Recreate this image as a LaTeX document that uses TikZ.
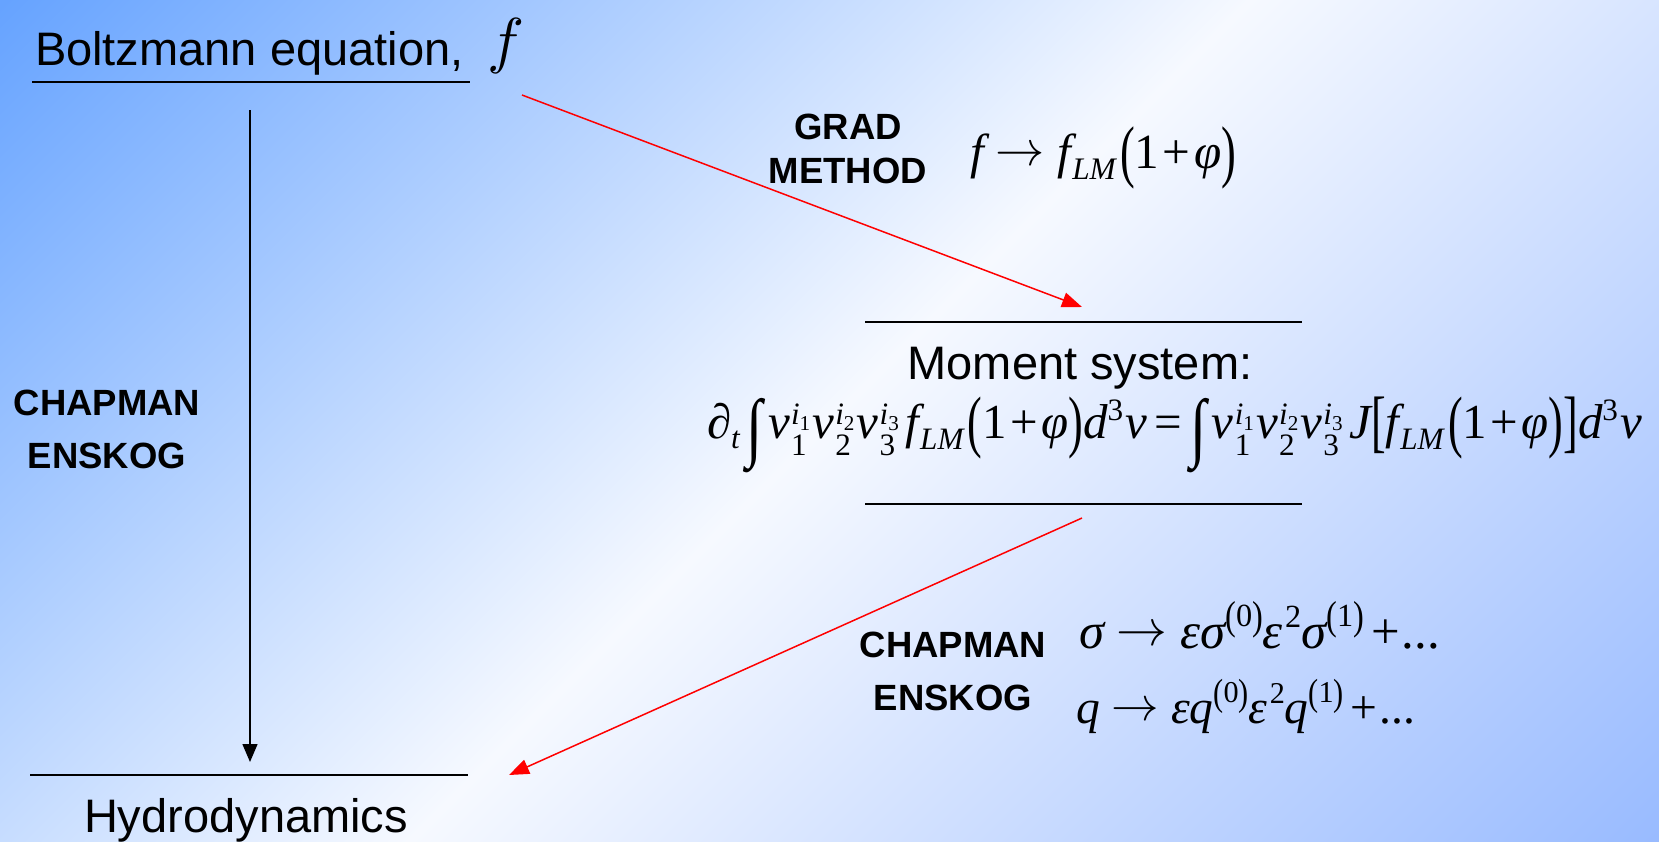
\documentclass[tikz,border=0pt]{standalone}
\usepackage{graphicx}
\usepackage{fontspec}
\setmainfont{Liberation Sans}
\newfontfamily\tnr{Liberation Serif}
\usetikzlibrary{arrows.meta}
\definecolor{bgA}{RGB}{102,163,255}
\definecolor{bgB}{RGB}{153,187,255}
\definecolor{bgM}{RGB}{246,249,255}
\pgfdeclarehorizontalshading{bgshade}{100bp}{color(0bp)=(bgA); color(14.6bp)=(bgA); color(50bp)=(bgM); color(85.4bp)=(bgB); color(100bp)=(bgB)}
\newbox\SupB
\newbox\SubB
\newcommand\Ii[1]{{\itshape #1}}
\newcommand\scr[1]{{\fontsize{28}{28}\selectfont #1}}
\newcommand\sscr[1]{{\fontsize{19}{19}\selectfont #1}}
\newcommand\supsub[2]{\setbox\SupB=\hbox{\raise12pt\hbox{#1}}\setbox\SubB=\hbox{\lower16pt\hbox{#2}}\ifdim\wd\SupB>\wd\SubB \rlap{\copy\SubB}\copy\SupB\else\rlap{\copy\SupB}\copy\SubB\fi}
\newcommand\vi[1]{\Ii{v}\kern1pt\supsub{\scr{\Ii{i}}\lower5pt\hbox{\sscr{#1}}}{\scr{#1}}\kern2pt}
\newcommand\fLM{\Ii{f}\kern1pt\lower10pt\hbox{\scr{\Ii{LM}}}}
\newcommand\LP{\raisebox{-6pt}{\scalebox{0.9}[1.4]{(}}}
\newcommand\RP{\raisebox{-6pt}{\scalebox{0.9}[1.4]{)}}}
\newcommand\LB{\raisebox{-6pt}{\scalebox{0.9}[1.4]{[}}}
\newcommand\RB{\raisebox{-6pt}{\scalebox{0.9}[1.4]{]}}}
\newcommand\INT{\raisebox{-13pt}{\scalebox{1.2}[1.55]{∫}}}
\newcommand\dcube{\Ii{d}\raise16pt\hbox{\scr{3}}\kern2pt\Ii{v}}
\newcommand\arr{\kern11pt\raisebox{2pt}{\scalebox{4.4}{\normalsize$\rightarrow$}}\kern11pt}
\newcommand\bigsup[1]{\raise19pt\hbox{\scr{\raisebox{-3pt}{\scalebox{1}[1.25]{(}}#1\raisebox{-3pt}{\scalebox{1}[1.25]{)}}}}}
\newcommand\eqfont{\tnr\fontsize{44}{44}\selectfont}
\begin{document}
\begin{tikzpicture}[x=1pt,y=-1pt,
  txt/.style={inner sep=0pt, outer sep=0pt, font=\fontsize{47}{54}\selectfont},
  lbl/.style={inner sep=0pt, outer sep=0pt, font=\bfseries\fontsize{36.5}{53}\selectfont, align=center, anchor=base},
  frm/.style={inner sep=0pt, outer sep=0pt, anchor=base west},
  rulel/.style={line width=2pt},
  blk/.style={line width=1.4pt, -{Triangle[length=18pt,width=15pt]}},
  redarr/.style={red, line width=1.5pt, -{Triangle[length=20pt,width=15pt]}}]
\shade[shading=bgshade, shading angle=-45] (0,0) rectangle (1659,841);
\useasboundingbox (0,0) rectangle (1659,841);
% Boltzmann
\node[txt, anchor=base west] (boltz) at (35,65) {Boltzmann equation,\kern24pt\raisebox{4pt}{\scalebox{6.2}{\normalsize$f$}}};
\draw[rulel] (32,82) -- (470,82);
% Hydrodynamics
\draw[rulel] (30,775) -- (468,775);
\node[txt, anchor=base] (hydro) at (246,832) {Hydrodynamics};
% Moment system
\draw[rulel] (865,322) -- (1302,322);
\draw[rulel] (865,504) -- (1302,504);
\node[txt, anchor=base] (moment) at (1080,379) {Moment system:};
\node[frm] (momeq) at (707,438) {\resizebox{935pt}{!}{\eqfont ∂\lower9pt\hbox{\scr{\Ii{t}}}\kern6pt\INT\kern5pt\vi1\vi2\vi3\kern4pt\fLM\kern4pt\LP1\kern3pt+\kern3pt\Ii{φ}\RP\dcube\kern7pt=\kern7pt\INT\kern5pt\vi1\vi2\vi3\kern4pt\Ii{J}\LB\fLM\kern4pt\LP1\kern3pt+\kern3pt\Ii{φ}\RP\RB\dcube}};
% labels (base anchor = last line)
\node[lbl] (ceL) at (107,468) {CHAPMAN\\ENSKOG};
\node[lbl, font=\bfseries\fontsize{36.5}{44}\selectfont] (grad) at (848,183) {GRAD\\METHOD};
\node[lbl] (ceR) at (953,710) {CHAPMAN\\ENSKOG};
% formulas
\node[frm] (gradf) at (970,168) {\resizebox{266pt}{!}{\eqfont\Ii{f}\arr\fLM\kern4pt\LP1\kern3pt+\kern3pt\Ii{φ}\RP}};
\node[frm] (sigf) at (1079,648) {\resizebox{361pt}{!}{\eqfont\Ii{σ}\arr\Ii{εσ}\bigsup{0}\Ii{ε}\kern2pt\raise18pt\hbox{\scr{2}}\Ii{σ}\bigsup{1}\kern6pt+\kern2pt...}};
\node[frm] (qf) at (1076,723) {\resizebox{339pt}{!}{\eqfont\Ii{q}\arr\Ii{εq}\bigsup{0}\Ii{ε}\kern2pt\raise18pt\hbox{\scr{2}}\Ii{q}\bigsup{1}\kern6pt+\kern2pt...}};
% connectors
\coordinate (bS) at (250,110);
\coordinate (bE) at (250,762);
\draw[blk] (bS) -- (bE);
\coordinate (gS) at (522,95);
\coordinate (gE) at (1082,307);
\draw[redarr] (gS) -- (gE);
\coordinate (cS) at (1082,518);
\coordinate (cE) at (509,775);
\draw[redarr] (cS) -- (cE);
\end{tikzpicture}
\end{document}
